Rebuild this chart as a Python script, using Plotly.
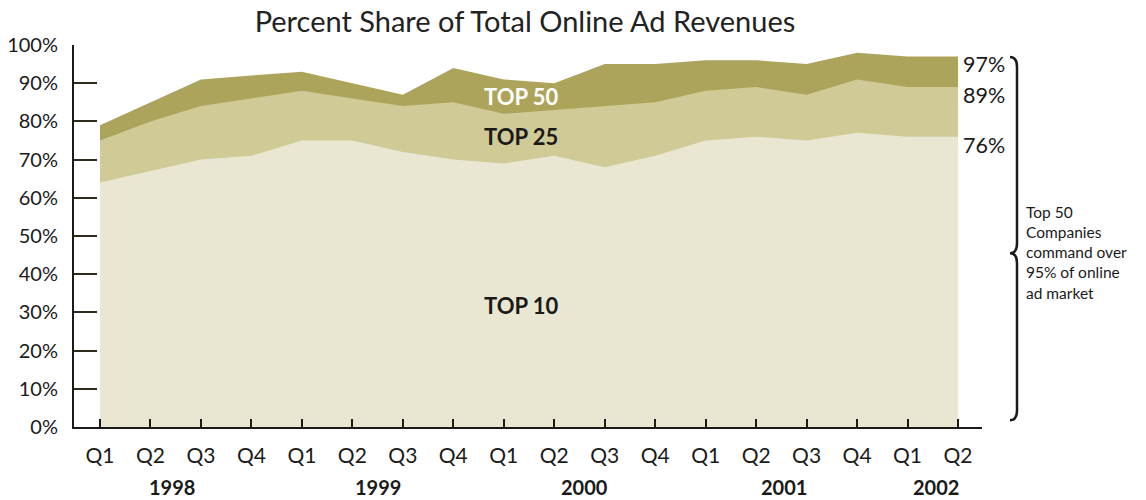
import plotly.graph_objects as go

# quarters 1998 Q1 .. 2002 Q2, cumulative share (%)
quarters = ["Q1", "Q2", "Q3", "Q4", "Q1", "Q2", "Q3", "Q4", "Q1", "Q2",
            "Q3", "Q4", "Q1", "Q2", "Q3", "Q4", "Q1", "Q2"]
years = ["1998", "1999", "2000", "2001", "2002"]
year_pos = [1.42, 5.5, 9.6, 13.55, 16.57]
top10 = [64, 67, 70, 71, 75, 75, 72, 70, 69, 71, 68, 71, 75, 76, 75, 77, 76, 76]
top25 = [75, 80, 84, 86, 88, 86, 84, 85, 82, 83, 84, 85, 88, 89, 87, 91, 89, 89]
top50 = [79, 85, 91, 92, 93, 90, 87, 94, 91, 90, 95, 95, 96, 96, 95, 98, 97, 97]
y_ticks = [0, 10, 20, 30, 40, 50, 60, 70, 80, 90, 100]
note_lines = ["Top 50", "Companies", "command over", "95% of online", "ad market"]

C50 = "#ADA45B"
C25 = "#CFCA96"
C10 = "#E9E7D2"
INK = "#1a1a1a"
FONT = "Lato"

# plot area in pixels (for the brace / side note)
L, R, T, B = 74, 982, 45, 426.7


def px(x):
    return (x - L) / (R - L)


def py(y):
    return (B - y) / (B - T)


x_idx = list(range(len(quarters)))

fig = go.Figure()
for vals, col in [(top50, C50), (top25, C25), (top10, C10)]:
    fig.add_trace(go.Scatter(x=x_idx, y=vals, mode="lines", fill="tozeroy",
                             line=dict(width=0, color=col), fillcolor=col,
                             hoverinfo="skip", showlegend=False))

ann = []
# in-chart labels
ann.append(dict(x=8.35, y=86.6, text="<b>TOP 50</b>", font=dict(color="white", size=22)))
ann.append(dict(x=8.35, y=76.1, text="<b>TOP 25</b>", font=dict(color=INK, size=22)))
ann.append(dict(x=8.35, y=31.8, text="<b>TOP 10</b>", font=dict(color=INK, size=22)))
# end values
for v in (top50[-1], top25[-1], top10[-1]):
    ann.append(dict(x=px(961), xref="paper", y=v, xanchor="left", yanchor="middle", yshift=-8,
                    text=f"{v}%", font=dict(color=INK, size=21.5)))
# years
for yr, pos in zip(years, year_pos):
    ann.append(dict(x=pos, y=py(487), yref="paper", yanchor="middle", text=f"<b>{yr}</b>",
                    font=dict(color=INK, size=20)))
# side note
ann.append(dict(x=px(1024), xref="paper", y=py(252), yref="paper",
                xanchor="left", yanchor="middle", align="left", text="<br>".join(note_lines),
                font=dict(color=INK, size=15.5)))
for a in ann:
    a.setdefault("xref", "x")
    a.setdefault("yref", "y")
    a["showarrow"] = False

# curly brace
pts = [(1010, 57), (1017, 57), (1017, 67), (1017, 243), (1017, 253), (1010, 253),
       (1017, 253), (1017, 263), (1017, 410), (1017, 420), (1010, 420)]
p = [(px(a), py(b)) for a, b in pts]
path = (f"M {p[0][0]},{p[0][1]} Q {p[1][0]},{p[1][1]} {p[2][0]},{p[2][1]} "
        f"L {p[3][0]},{p[3][1]} Q {p[4][0]},{p[4][1]} {p[5][0]},{p[5][1]} "
        f"Q {p[6][0]},{p[6][1]} {p[7][0]},{p[7][1]} "
        f"L {p[8][0]},{p[8][1]} Q {p[9][0]},{p[9][1]} {p[10][0]},{p[10][1]}")

fig.update_layout(
    width=1146, height=500,
    margin=dict(l=L, r=1146 - R, t=T, b=500 - B, autoexpand=False),
    paper_bgcolor="white", plot_bgcolor="white",
    font=dict(family=FONT, color=INK),
    title=dict(text="Percent Share of Total Online Ad Revenues", x=525 / 1146, xanchor="center",
               y=1 - 22 / 500, yanchor="middle", font=dict(size=29, color="#222")),
    xaxis=dict(range=[-0.515, 17.475], tickvals=x_idx, ticktext=quarters,
               showline=True, linecolor=INK, linewidth=2, ticks="inside", ticklen=8,
               tickcolor=INK, tickwidth=1.5, showgrid=False, zeroline=False,
               tickfont=dict(size=21), ticklabelstandoff=9),
    yaxis=dict(range=[0, 100], tickvals=y_ticks, ticktext=[f"{v}%" for v in y_ticks],
               showline=True, linecolor=INK, linewidth=2, ticks="inside", ticklen=23,
               tickcolor="#2e2b1c", tickwidth=2, showgrid=False, zeroline=False,
               tickfont=dict(size=20), ticklabelstandoff=10),
    annotations=ann,
    shapes=[dict(type="path", path=path, xref="paper", yref="paper",
                 line=dict(color=INK, width=2.5))],
)

# page body has a default 8px margin; drop it so the figure sits at the window origin
fig.write_html("out.html", config={"displayModeBar": False},
               post_script="document.body.style.margin='0';")
